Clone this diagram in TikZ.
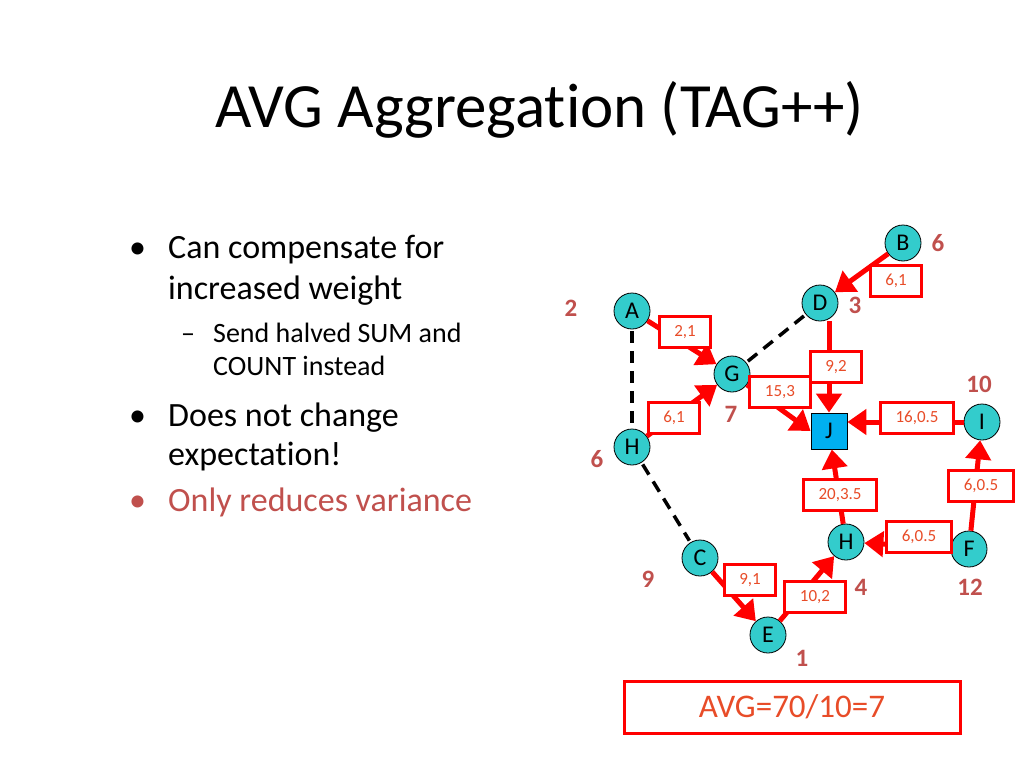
\documentclass[tikz,border=0pt]{standalone}
\usepackage{fontspec}
\setmainfont{Carlito}[Ligatures=NoCommon]
\usetikzlibrary{arrows.meta,positioning,calc}

\definecolor{nodeteal}{RGB}{51,204,204}
\definecolor{sinkblue}{RGB}{0,176,240}
\definecolor{msgred}{RGB}{255,0,0}
\definecolor{msgtext}{RGB}{232,76,40}
\definecolor{valred}{RGB}{192,80,77}

\tikzset{
  sensor/.style={circle,draw=black,line width=0.8pt,fill=nodeteal,minimum size=36pt,inner sep=0pt,font=\fontsize{24}{24}\selectfont},
  sink/.style={rectangle,draw=black,line width=0.8pt,fill=sinkblue,minimum size=36pt,inner sep=0pt,font=\fontsize{24}{24}\selectfont},
  msgbox/.style={draw=msgred,line width=3pt,fill=white,text=msgtext,inner xsep=15pt,minimum height=31pt,font=\fontsize{17}{17}\selectfont},
  reading/.style={text=valred,font=\bfseries\fontsize{25}{25}\selectfont},
  sendarrow/.style={draw=msgred,line width=5pt,-{Triangle[length=19pt,width=25pt]}},
  radio/.style={draw=black,line width=3.5pt,dash pattern=on 12pt off 8pt,shorten <=2pt,shorten >=2pt},
  bulletline/.style={anchor=base west,inner sep=0pt,font=\fontsize{34}{34}\selectfont},
  subline/.style={anchor=base west,inner sep=0pt,font=\fontsize{28}{28}\selectfont},
}

\begin{document}
\begin{tikzpicture}[x=1pt,y=-1pt]
    \useasboundingbox (0,0) rectangle (1024,768);

    % Title
    \node[anchor=base west,inner sep=0pt,font=\fontsize{63}{63}\selectfont] (title) at (215,127) {AVG Aggregation (TAG++)};

    % Bullets
    \node[bulletline] (dot1) at (129,258) {•};
    \node[bulletline] (txt1a) at (168,258) {Can compensate for};
    \node[bulletline] (txt1b) at (168,299) {increased weight};
    \node[subline] (dash1) at (181,342) {–};
    \node[subline] (sub1a) at (213,342) {Send halved SUM and};
    \node[subline] (sub1b) at (213,375) {COUNT instead};
    \node[bulletline] (dot2) at (129,426) {•};
    \node[bulletline] (txt2a) at (168,426) {Does not change};
    \node[bulletline] (txt2b) at (168,465) {expectation!};
    \node[bulletline,text=valred] (dot3) at (129,511) {•};
    \node[bulletline,text=valred] (txt3) at (168,511) {Only reduces variance};

    % Sensor nodes
    \node[sensor] (B) at (903,243) {B};
    \node[sensor] (D) at (820,303) {D};
    \node[sensor] (A) at (632,311) {A};
    \node[sensor] (G) at (732,374) {G};
    \node[sink]   (J) at (829,431) {J};
    \node[sensor] (I) at (982,422) {I};
    \node[sensor] (Hl) at (632,447) {H};
    \node[sensor] (Hr) at (846,542) {H};
    \node[sensor] (F) at (969,549) {F};
    \node[sensor] (C) at (700,558) {C};
    \node[sensor] (E) at (768,635) {E};

    % Readings
    \node[reading] (vB) at (938,243) {6};
    \node[reading] (vD) at (855,305) {3};
    \node[reading] (vA) at (571,308) {2};
    \node[reading] (vG) at (731,414) {7};
    \node[reading] (vI) at (979,384) {10};
    \node[reading] (vHl) at (597,459) {6};
    \node[reading] (vC) at (648,579) {9};
    \node[reading] (vHr) at (861,587) {4};
    \node[reading] (vF) at (970,587) {12};
    \node[reading] (vE) at (802,658) {1};

    % Unused links
    \draw[radio] (A) -- (Hl);
    \draw[radio] (G) -- (D);
    \draw[radio] (Hl) -- (C);

    % Messages towards the sink
    \draw[sendarrow] (B) -- (D);
    \draw[sendarrow] (J |- D.south) -- (J.north);
    \draw[sendarrow] (A) -- (G);
    \draw[sendarrow] (Hl) -- (G);
    \draw[sendarrow] (G) -- (J.west);
    \draw[sendarrow] (I.west) -- (J.east |- I.west);
    \draw[sendarrow] (Hr) -- (J);
    \draw[sendarrow] (F) -- (I);
    \draw[sendarrow] (F) -- (Hr);
    \draw[sendarrow] (E) -- (Hr);
    \draw[sendarrow] (C) -- (E);

    % Partial (SUM,COUNT) values
    \node[msgbox] (mBD) at (896,281) {6,1};
    \node[msgbox] (mAG) at (685,332) {2,1};
    \node[msgbox] (mGJ) at (780,392) {15,3};
    \node[msgbox] (mDJ) at (836,367) {9,2};
    \node[msgbox] (mHG) at (674,418) {6,1};
    \node[msgbox] (mIJ) at (917,418) {16,0.5};
    \node[msgbox] (mHJ) at (840,495) {20,3.5};
    \node[msgbox] (mFI) at (981,486) {6,0.5};
    \node[msgbox] (mFH) at (919,537) {6,0.5};
    \node[msgbox] (mCE) at (750,580) {9,1};
    \node[msgbox] (mEH) at (815,597) {10,2};

    % Result
    \node[draw=msgred,line width=3pt,text=msgtext,minimum width=336pt,minimum height=52pt,font=\fontsize{33}{33}\selectfont] (avg) at (792,707) {AVG=70/10=7};
\end{tikzpicture}
\end{document}
